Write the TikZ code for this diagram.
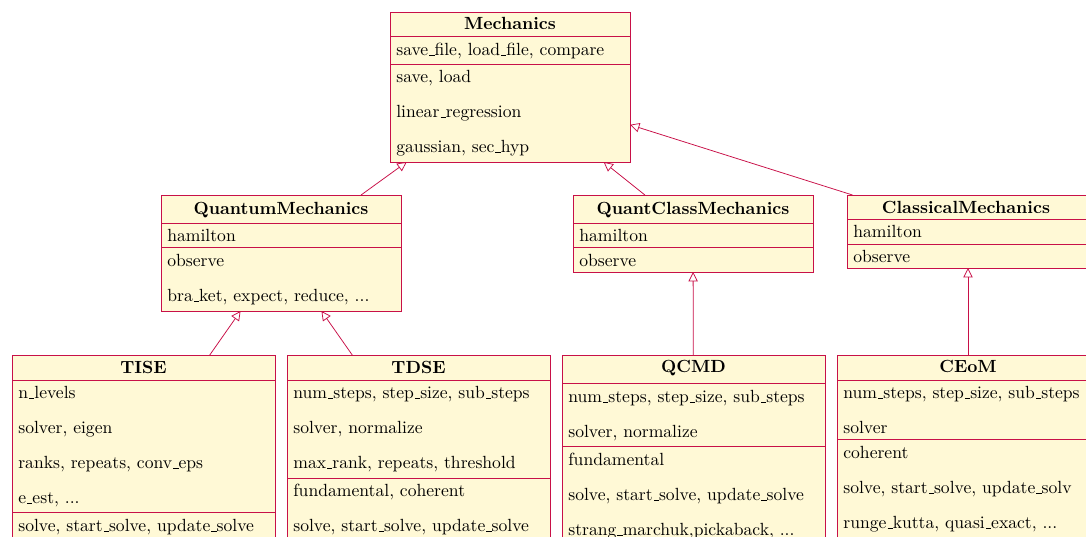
\documentclass[tikz,border=0pt]{standalone}
\usetikzlibrary{arrows.meta}
\definecolor{umlline}{RGB}{200,16,72}
\definecolor{umlfill}{RGB}{255,249,214}
\newcommand\umlbox[5]{\node[cls,minimum width={#4*0.585pt},minimum height={#5*0.585pt}] (#1) at (#2,#3) {};}
\newcommand\usc{\leavevmode\kern.06em\vbox{\hrule width.3em}}
\newcommand\umlfs{\fontsize{10.3pt}{12pt}\selectfont}
\begin{document}
\begin{tikzpicture}[x=0.585pt,y=-0.585pt,
 cls/.style={draw=umlline,fill=umlfill,line width=0.5pt,inner sep=0pt,outer sep=0pt,anchor=north west},
 sepline/.style={draw=umlline,line width=0.5pt},
 title/.style={font=\umlfs\bfseries,inner sep=0pt,text height=9pt,text depth=2pt},
 item/.style={font=\umlfs,anchor=west,inner sep=0pt,text height=9pt,text depth=2pt},
 inherit/.style={draw=umlline,line width=0.45pt,-{Triangle[open,length=5.5pt,width=5.5pt]}}]
\useasboundingbox (0,0) rectangle (1086,537);
\clip (0,0) rectangle (1086,537);
% Mechanics
\umlbox{mech}{390}{12}{240}{150}
\draw[sepline] (390,36) -- (630,36) (390,64) -- (630,64);
\node[title] (mechT) at (510,24) {Mechanics};
\node[item] (mech1) at (396,50) {save\usc{}file, load\usc{}file, compare};
\node[item] (mech2) at (396,77) {save, load};
\node[item] (mech3) at (396,112) {linear\usc{}regression};
\node[item] (mech4) at (396,147) {gaussian, sec\usc{}hyp};
% QuantumMechanics
\umlbox{qm}{161}{195}{240}{116}
\draw[sepline] (161,223) -- (401,223) (161,247) -- (401,247);
\node[title] (qmT) at (281,209) {QuantumMechanics};
\node[item] (qm1) at (167,236) {hamilton};
\node[item] (qm2) at (167,261) {observe};
\node[item] (qm3) at (167,296) {bra\usc{}ket, expect, reduce, ...};
% QuantClassMechanics
\umlbox{qcm}{573}{195}{240}{77}
\draw[sepline] (573,223) -- (813,223) (573,247) -- (813,247);
\node[title] (qcmT) at (693,209) {QuantClassMechanics};
\node[item] (qcm1) at (579,236) {hamilton};
\node[item] (qcm2) at (579,261) {observe};
% ClassicalMechanics
\umlbox{cm}{847}{195}{242}{73}
\draw[sepline] (847,219) -- (1089,219) (847,244) -- (1089,244);
\node[title] (cmT) at (966,208) {ClassicalMechanics};
\node[item] (cm1) at (853,232) {hamilton};
\node[item] (cm2) at (853,257) {observe};
% TISE
\umlbox{tise}{12}{355}{263}{190}
\draw[sepline] (12,380) -- (275,380) (12,512) -- (275,512);
\node[title] (tiseT) at (143.5,368) {TISE};
\node[item] (tise1) at (18,393) {n\usc{}levels};
\node[item] (tise2) at (18,428) {solver, eigen};
\node[item] (tise3) at (18,463) {ranks, repeats, conv\usc{}eps};
\node[item] (tise4) at (18,498) {e\usc{}est, ...};
\node[item] (tise5) at (18,526) {solve, start\usc{}solve, update\usc{}solve};
% TDSE
\umlbox{tdse}{287}{355}{263}{190}
\draw[sepline] (287,380) -- (550,380) (287,478) -- (550,478);
\node[title] (tdseT) at (418.5,368) {TDSE};
\node[item] (tdse1) at (293,393) {num\usc{}steps, step\usc{}size, sub\usc{}steps};
\node[item] (tdse2) at (293,428) {solver, normalize};
\node[item] (tdse3) at (293,463) {max\usc{}rank, repeats, threshold};
\node[item] (tdse4) at (293,491) {fundamental, coherent};
\node[item] (tdse5) at (293,526) {solve, start\usc{}solve, update\usc{}solve};
% QCMD
\umlbox{qcmd}{562}{355}{263}{190}
\draw[sepline] (562,383) -- (825,383) (562,446) -- (825,446);
\node[title] (qcmdT) at (693.5,367) {QCMD};
\node[item] (qcmd1) at (568,397) {num\usc{}steps, step\usc{}size, sub\usc{}steps};
\node[item] (qcmd2) at (568,432) {solver, normalize};
\node[item] (qcmd3) at (568,460) {fundamental};
\node[item] (qcmd4) at (568,495) {solve, start\usc{}solve, update\usc{}solve};
\node[item] (qcmd5) at (568,530) {strang\usc{}marchuk,pickaback, ...};
% CEoM
\umlbox{ceom}{837}{355}{262}{190}
\draw[sepline] (837,380) -- (1099,380) (837,439) -- (1099,439);
\node[title] (ceomT) at (968,367) {CEoM};
\node[item] (ceom1) at (843,393) {num\usc{}steps, step\usc{}size, sub\usc{}steps};
\node[item] (ceom2) at (843,428) {solver};
\node[item] (ceom3) at (843,453) {coherent};
\node[item] (ceom4) at (843,488) {solve, start\usc{}solve, update\usc{}solv};
\node[item] (ceom5) at (843,523) {runge\usc{}kutta, quasi\usc{}exact, ...};
% inheritance
\draw[inherit] (qm) -- (mech);
\draw[inherit] (qcm) -- (mech);
\draw[inherit] (cm) -- (mech);
\draw[inherit] (tise) -- (qm);
\draw[inherit] (tdse) -- (qm);
\draw[inherit] (qcmd) -- (qcm);
\draw[inherit] (ceom) -- (cm);
\end{tikzpicture}
\end{document}
